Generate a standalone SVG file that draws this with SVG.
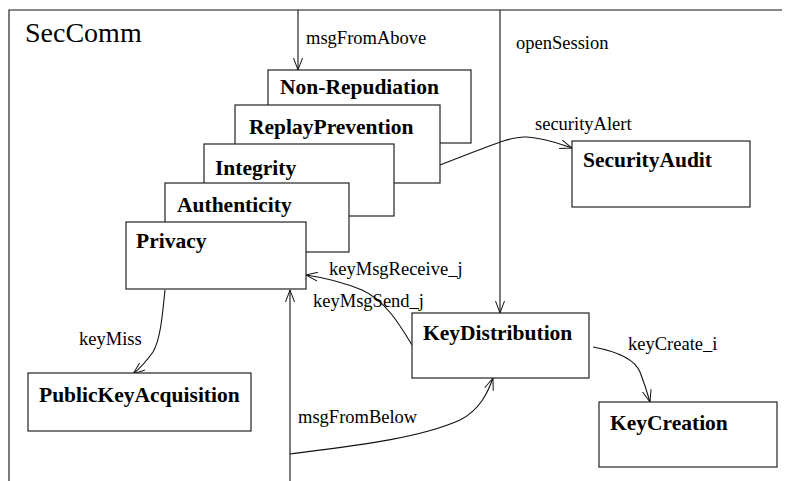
<svg xmlns="http://www.w3.org/2000/svg" width="790" height="481" viewBox="0 0 790 481">
<defs>
<marker id="arr" viewBox="0 0 12 10" refX="12" refY="5" markerWidth="12" markerHeight="10" markerUnits="userSpaceOnUse" orient="auto">
<path d="M0,0.5 L12,5 L0,9.5" fill="none" stroke="#111" stroke-width="1"/>
</marker>
<style>
.box{fill:#fff;stroke:#222;stroke-width:1.2}
.nl{font-family:"Liberation Serif","Times New Roman",serif;font-weight:bold;font-size:21.5px;fill:#000}
.lb{font-family:"Liberation Serif","Times New Roman",serif;font-size:18.5px;fill:#000}
.ln{fill:none;stroke:#111;stroke-width:1.1}
</style>
</defs>
<rect width="790" height="481" fill="#fff"/>
<g id="frame">
<path class="ln" d="M9,481 V10 H782"/>
<text x="25" y="42" font-family="'Liberation Serif','Times New Roman',serif" font-size="28">SecComm</text>
</g>
<g id="connectors">
<path class="ln" d="M298,10 V70" marker-end="url(#arr)"/>
<path class="ln" d="M500,10 V313" marker-end="url(#arr)"/>
<path class="ln" d="M440,165 C490,146 510,136 527,137 C545,138 560,144 572,148" marker-end="url(#arr)"/>
<path class="ln" d="M593,347 C620,352 635,360 640,372 C645,385 648,395 650,402" marker-end="url(#arr)"/>
<path class="ln" d="M165,290 C162,320 160,340 153,352 C145,363 138,370 133,374" marker-end="url(#arr)"/>
<path class="ln" d="M290,481 V290" marker-end="url(#arr)"/>
<path class="ln" d="M290,454 C360,445 420,438 460,420 C480,410 488,392 493,378" marker-end="url(#arr)"/>
<path class="ln" d="M412,345 C400,325 385,300 362,290 C340,281 320,277 306,275" marker-end="url(#arr)"/>
<text class="lb" x="306" y="44">msgFromAbove</text>
<text class="lb" x="516" y="49">openSession</text>
<text class="lb" x="535" y="130">securityAlert</text>
<text class="lb" x="329" y="275">keyMsgReceive_j</text>
<text class="lb" x="313" y="307">keyMsgSend_j</text>
<text class="lb" x="79" y="345">keyMiss</text>
<text class="lb" x="628" y="350">keyCreate_i</text>
<text class="lb" x="298" y="423">msgFromBelow</text>
</g>
<g id="NonRepudiation">
<rect class="box" x="268" y="70" width="203" height="73"/>
<text class="nl" x="280" y="94">Non-Repudiation</text>
</g>
<g id="ReplayPrevention">
<rect class="box" x="235" y="105" width="205" height="78"/>
<text class="nl" x="249" y="134">ReplayPrevention</text>
</g>
<g id="Integrity">
<rect class="box" x="204" y="144" width="190" height="72"/>
<text class="nl" x="215" y="175">Integrity</text>
</g>
<g id="Authenticity">
<rect class="box" x="165" y="183" width="184" height="69"/>
<text class="nl" x="177" y="212">Authenticity</text>
</g>
<g id="Privacy">
<rect class="box" x="126" y="222" width="180" height="67"/>
<text class="nl" x="136" y="248">Privacy</text>
</g>
<g id="SecurityAudit">
<rect class="box" x="572" y="141" width="178" height="66"/>
<text class="nl" x="583" y="167">SecurityAudit</text>
</g>
<g id="KeyDistribution">
<rect class="box" x="412" y="313" width="177" height="65"/>
<text class="nl" x="423" y="340">KeyDistribution</text>
</g>
<g id="KeyCreation">
<rect class="box" x="599" y="402" width="178" height="65"/>
<text class="nl" x="610" y="430">KeyCreation</text>
</g>
<g id="PublicKeyAcquisition">
<rect class="box" x="28" y="373" width="223" height="58"/>
<text class="nl" x="39" y="402">PublicKeyAcquisition</text>
</g>
</svg>
